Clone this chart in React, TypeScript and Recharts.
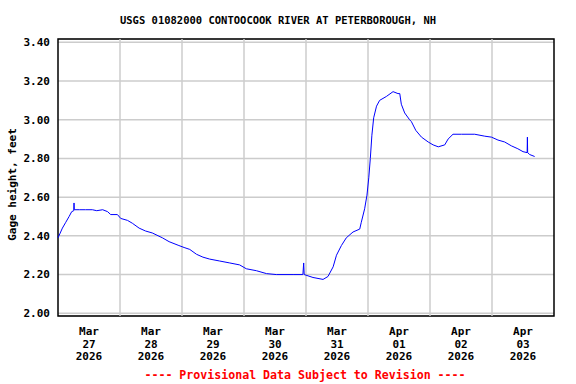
import { LineChart, Line, XAxis, YAxis, CartesianGrid, ReferenceLine, ReferenceArea } from 'recharts';

// hours since Mar 27 2026 00:00
const hours = [
  0, 0.7, 1.7, 3.0, 4.3, 5.3, 6.1, 6.2, 6.3, 8.4, 10.7, 13.3, 15, 17.3, 19.2, 20.4, 23,
  24.3, 26.9, 28.8, 31.4, 33.9, 36.5, 40.4, 43, 46.8, 48.8, 51, 53.6, 56.1, 58.7, 62.6,
  66.5, 70.3, 72.9, 76.8, 80.7, 84.5, 91, 94.8, 95.1, 95.3, 98.7, 102.6, 104.5, 106.5,
  107.8, 109.7, 111.6, 114.2, 116.8, 117.4, 118.7, 119.6, 120.3, 120.9, 121.5, 122.2,
  123.3, 124.5, 127.1, 129.7, 131.6, 132.3, 132.9, 134.2, 136.1, 136.8, 138.5, 140.7,
  143.3, 145.2, 147.2, 149.7, 151, 152.9, 156.2, 161.3, 165.2, 167.8, 170.3, 172.9,
  175.5, 178, 180, 181.6, 181.7, 181.8, 182.6, 184.5,
];

const gage = [
  2.39, 2.41, 2.44, 2.47, 2.5, 2.525, 2.53, 2.57, 2.535, 2.535, 2.535, 2.535, 2.53, 2.535, 2.525, 2.51, 2.51,
  2.49, 2.48, 2.465, 2.44, 2.425, 2.415, 2.39, 2.37, 2.35, 2.34, 2.33, 2.305, 2.29, 2.28, 2.27,
  2.26, 2.25, 2.23, 2.22, 2.205, 2.2, 2.2, 2.2, 2.26, 2.2, 2.185, 2.175, 2.19, 2.24,
  2.3, 2.35, 2.39, 2.42, 2.435, 2.47, 2.54, 2.61, 2.7, 2.8, 2.92, 3.01,
  3.07, 3.1, 3.12, 3.145, 3.135, 3.135, 3.08, 3.035, 3.0, 2.99, 2.945, 2.91,
  2.885, 2.87, 2.86, 2.87, 2.9, 2.925, 2.925, 2.925, 2.915, 2.91, 2.895, 2.885,
  2.865, 2.85, 2.835, 2.83, 2.91, 2.83, 2.82, 2.81,
];

const dayTicks = [12, 36, 60, 84, 108, 132, 156, 180];
const dayMonths = ['Mar', 'Mar', 'Mar', 'Mar', 'Mar', 'Apr', 'Apr', 'Apr'];
const dayNumbers = ['27', '28', '29', '30', '31', '01', '02', '03'];
const midnights = [24, 48, 72, 96, 120, 144, 168];
const yTicks = [2.0, 2.2, 2.4, 2.6, 2.8, 3.0, 3.2, 3.4];

const rows = hours.map((h, i) => ({ h, gage: gage[i] }));

const FONT = '"DejaVu Sans Mono", monospace';

function DayTick(props: any) {
  const { x, y, payload } = props;
  const i = dayTicks.indexOf(payload.value);
  return (
    <text x={x} y={y} textAnchor="middle" fontFamily={FONT} fontWeight="bold" fontSize={11} fill="#000">
      <tspan x={x} dy={11}>{dayMonths[i]}</tspan>
      <tspan x={x} dy={12.5}>{dayNumbers[i]}</tspan>
      <tspan x={x} dy={12.5}>2026</tspan>
    </text>
  );
}

export default function App() {
  return (
    <div style={{ position: 'absolute', left: 0, top: 0, width: 576, height: 384, background: '#fff' }}>
      <LineChart width={576} height={384} data={rows} margin={{ top: 39, right: 22, bottom: 0, left: 0 }}>
        <CartesianGrid vertical={false} stroke="#cccccc" strokeWidth={1.5} />
        {midnights.map((m) => (
          <ReferenceLine key={m} x={m} stroke="#cccccc" strokeWidth={1.5} />
        ))}
        <XAxis
          dataKey="h"
          type="number"
          domain={[0, 192]}
          ticks={dayTicks}
          tick={<DayTick />}
          tickLine={false}
          axisLine={false}
          height={68}
          interval={0}
        />
        <YAxis
          type="number"
          domain={[1.986, 3.417]}
          ticks={yTicks}
          tickFormatter={(v: number) => v.toFixed(2)}
          tick={{ fontFamily: FONT, fontWeight: 'bold', fontSize: 11, fill: '#000' }}
          tickLine={false}
          axisLine={false}
          width={58}
          allowDataOverflow
          interval={0}
        />
        <Line
          type="linear"
          dataKey="gage"
          stroke="#0000ff"
          strokeWidth={1}
          dot={false}
          isAnimationActive={false}
        />
        <ReferenceArea
          x1={0}
          x2={192}
          y1={1.986}
          y2={3.417}
          fill="none"
          fillOpacity={0}
          stroke="#000"
          strokeWidth={1.5}
          ifOverflow="visible"
        />
      </LineChart>
      <svg width={576} height={384} style={{ position: 'absolute', left: 0, top: 0, pointerEvents: 'none' }}>
        <text x={278} y={23.5} textAnchor="middle" fontFamily={FONT} fontWeight="bold" fontSize={10.5} fill="#000">
          USGS 01082000 CONTOOCOOK RIVER AT PETERBOROUGH, NH
        </text>
        <text
          x={15.5}
          y={184.5}
          transform="rotate(-90 15.5 184.5)"
          textAnchor="middle"
          fontFamily={FONT}
          fontWeight="bold"
          fontSize={11}
          fill="#000"
        >
          Gage height, feet
        </text>
        <text x={305} y={379} textAnchor="middle" fontFamily={FONT} fontWeight="bold" fontSize={11.6} fill="#ff0000">
          ---- Provisional Data Subject to Revision ----
        </text>
      </svg>
    </div>
  );
}
